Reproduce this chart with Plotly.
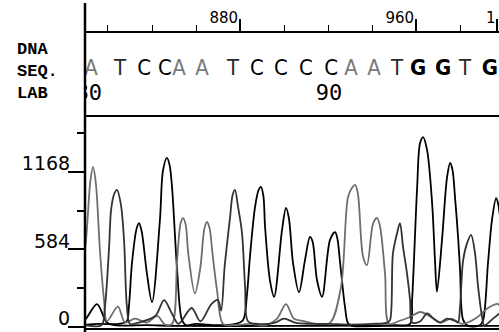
import plotly.graph_objects as go

# ---------------- data ----------------
# ruler (scan numbers)
ruler_major = [880, 960, 997]
ruler_labels = ["880", "960", "1"]
ruler_minor_step = 20

# y axis of the trace panel
y_major = [0, 584, 1168]
y_minor = [292, 876, 1460]

# base calls
bases = list("ATCCAATCCCCAATGGTG")
base_pos = [812.3, 825.5, 836.4, 845.9, 852.3, 862.7, 876.8, 887.7, 898.6,
            910.0, 921.4, 930.5, 940.9, 951.4, 960.9, 972.3, 982.3, 993.6]
base_numbers = ["80", "90"]
base_number_idx = [0, 10]

# traces (scan, signal)
a_x = [807.3, 810.0, 812.0, 813.2, 814.5, 816.4, 818.2, 819.5, 824.5, 827.7, 832.3,
       837.7, 842.3, 846.0, 849.1, 851.4, 853.0, 854.1, 855.3, 856.5, 859.5, 862.0,
       863.8, 865.0, 866.2, 867.5, 869.5, 872.3, 877.0, 884.5, 891.4, 896.8, 900.9,
       904.5, 909.0, 915.0, 921.0, 925.9, 929.1, 931.0, 932.3, 933.6, 935.9, 937.7,
       940.5, 942.3, 943.6, 945.9, 947.7, 952.0, 957.0, 962.0, 966.0, 971.0, 976.0,
       981.0, 987.0, 992.7, 997.3, 999.5]
a_y = [300, 650, 1100, 1206, 1080, 560, 200, 40, 150, 30, 60,
       30, 80, 15, 20, 500, 780, 820, 770, 550, 250, 450,
       740, 790, 740, 550, 280, 20, 10, 20, 10, 60, 170,
       60, 40, 20, 30, 300, 980, 1050, 1070, 1000, 530, 465,
       780, 820, 760, 400, 20, 40, 70, 110, 80, 30, 60,
       20, 60, 140, 170, 100]

c_x = [807.3, 816.0, 825.0, 828.5, 829.5, 830.9, 833.0, 834.1, 835.3, 837.7, 840.0,
       843.6, 845.0, 846.8, 848.0, 849.1, 851.4, 853.6, 855.5, 860.0, 870.0, 878.0,
       881.4, 883.2, 884.5, 886.8, 888.4, 889.5, 890.6, 891.4, 893.6, 895.5, 899.1,
       900.9, 902.2, 904.1, 906.8, 909.5, 911.8, 913.0, 915.0, 917.3, 920.9, 923.2,
       924.3, 925.5, 927.7, 929.1, 931.0, 945.0, 960.0, 999.5]
c_y = [10, 20, 20, 40, 150, 480, 740, 782, 720, 400, 185,
       805, 1180, 1274, 1220, 1055, 430, 50, 10, 20, 10, 20,
       50, 250, 525, 900, 1030, 1055, 990, 750, 350, 225, 730,
       896, 820, 480, 260, 500, 677, 640, 350, 225, 655, 714,
       660, 480, 150, 25, 5, 5, 5, 5]

g_x = [807.3, 810.0, 815.0, 819.5, 823.0, 838.0, 850.0, 900.0, 950.0, 957.3, 958.2,
       960.5, 961.8, 963.2, 965.0, 967.3, 968.6, 969.5, 971.8, 974.1, 975.5, 976.6,
       977.7, 979.1, 980.0, 981.4, 983.6, 989.0, 990.5, 992.7, 994.5, 996.4, 997.3,
       999.5]
g_y = [30, 60, 170, 30, 10, 10, 5, 5, 10, 20, 200,
       1055, 1385, 1432, 1335, 933, 503, 262, 655, 1130, 1236, 1180,
       980, 677, 430, 50, 5, 10, 50, 480, 805, 971, 930,
       600]

t_x = [807.3, 817.0, 818.6, 820.5, 821.4, 822.8, 824.1, 825.9, 827.3, 828.6, 830.0,
       834.0, 841.5, 845.5, 849.0, 852.0, 858.0, 862.0, 867.0, 870.0, 871.4, 873.0,
       875.5, 876.6, 877.7, 879.1, 880.9, 882.3, 883.6, 888.0, 896.0, 900.0, 905.0,
       912.0, 920.0, 930.0, 940.0, 947.0, 948.2, 949.5, 951.4, 952.7, 954.1, 955.9,
       957.3, 958.2, 962.0, 965.0, 968.0, 971.0, 974.0, 978.0, 979.1, 980.0, 981.4,
       983.2, 985.0, 986.8, 988.2, 990.0, 991.0, 995.0, 999.5]
t_y = [20, 10, 150, 600, 880, 1000, 1032, 918, 650, 150, 20,
       30, 80, 200, 100, 20, 140, 40, 170, 200, 120, 450,
       828, 990, 1032, 905, 707, 300, 40, 20, 30, 60, 30,
       20, 20, 15, 20, 30, 50, 553, 707, 782, 600, 400,
       200, 30, 40, 100, 60, 30, 60, 40, 30, 150, 500,
       630, 692, 553, 300, 75, 10, 60, 120]

# ---------------- figure ----------------
W, H = 499, 332
x_left_px = 85
x_range = [809.55, 997.7]

fig = go.Figure()

channel_style = {
    "A": "#6e6e6e",
    "C": "#000000",
    "G": "#000000",
    "T": "#333333",
}
for name, xs, ys in [("C", c_x, c_y), ("G", g_x, g_y), ("A", a_x, a_y), ("T", t_x, t_y)]:
    fig.add_trace(go.Scatter(
        x=xs, y=ys, mode="lines", name=name,
        line=dict(color=channel_style[name], width=1.8, shape="spline", smoothing=0.9),
        xaxis="x", yaxis="y", showlegend=False, hoverinfo="skip",
    ))

letter_style = {
    "A": dict(color="#7a7a7a", weight="normal"),
    "C": dict(color="#000000", weight="normal"),
    "G": dict(color="#000000", weight="bold"),
    "T": dict(color="#2a2a2a", weight="normal"),
}
for b in "ACGT":
    xs = [p for p, c in zip(base_pos, bases) if c == b]
    fig.add_trace(go.Scatter(
        x=xs, y=[0.55] * len(xs), mode="text", text=[b] * len(xs),
        textposition="middle center", cliponaxis=True,
        textfont=dict(family="Liberation Sans Narrow, DejaVu Sans Condensed, Roboto Condensed, sans-serif",
                      size=22, color=letter_style[b]["color"],
                      weight=letter_style[b]["weight"]),
        xaxis="x2", yaxis="y2", showlegend=False, hoverinfo="skip",
    ))

fig.add_trace(go.Scatter(
    x=[base_pos[i] - 1.0 for i in base_number_idx], y=[0.25] * len(base_number_idx),
    mode="text", text=base_numbers, textposition="middle center", cliponaxis=True,
    textfont=dict(family="DejaVu Sans Mono", size=22, color="#000000"),
    xaxis="x2", yaxis="y2", showlegend=False, hoverinfo="skip",
))

def py(px):
    return (H - px) / H

fig.update_layout(
    width=W, height=H,
    margin=dict(l=0, r=0, t=0, b=0, autoexpand=False),
    paper_bgcolor="white", plot_bgcolor="white",
    xaxis=dict(
        domain=[x_left_px / W, 1], range=x_range, anchor="y", automargin=False,
        showline=True, linecolor="black", linewidth=2,
        showgrid=False, zeroline=False, showticklabels=False, ticks="",
    ),
    yaxis=dict(
        domain=[py(328), py(116)], range=[-11, 1591], anchor="x", automargin=False,
        showline=False, showgrid=False, zeroline=False,
        tickmode="array", tickvals=y_major, ticktext=[str(v) for v in y_major],
        ticks="outside", ticklen=16, tickwidth=2, tickcolor="black",
        ticklabelposition="outside top", ticklabelstandoff=10, ticklabelshift=6,
        tickfont=dict(family="DejaVu Sans", size=19, color="black"),
        minor=dict(tickmode="array", tickvals=y_minor, ticks="outside",
                   ticklen=7, tickwidth=2, tickcolor="black"),
    ),
    xaxis2=dict(
        domain=[x_left_px / W, 1], range=x_range, anchor="y2", side="top", automargin=False,
        showline=True, mirror=True, linecolor="black", linewidth=2,
        showgrid=False, zeroline=False,
        tickmode="array", tickvals=ruler_major, ticktext=ruler_labels,
        ticks="outside", ticklen=12, tickwidth=2, tickcolor="black",
        ticklabelposition="outside left", ticklabelstandoff=2,
        tickfont=dict(family="DejaVu Sans", size=15, color="black"),
        minor=dict(dtick=ruler_minor_step, tick0=0, ticks="outside",
                   ticklen=6, tickwidth=1, tickcolor="black"),
    ),
    yaxis2=dict(
        domain=[py(115), py(33)], range=[0, 1], anchor="x2", automargin=False,
        showline=False, showgrid=False, zeroline=False,
        showticklabels=False, ticks="",
    ),
    shapes=[dict(type="line", xref="x domain", yref="paper",
                 x0=0, x1=0, y0=0, y1=py(3),
                 line=dict(color="black", width=2.5))],
    annotations=[dict(
        xref="paper", yref="paper", x=37 / W, y=py(71),
        xanchor="center", yanchor="middle", showarrow=False,
        text="<b>DNA<br>SEQ.<br>LAB</b>", align="left",
        font=dict(family="Liberation Mono, DejaVu Sans Mono, monospace", size=17, color="black"),
    )],
)

fig.write_html("out.html", config={"displayModeBar": False},
               post_script="document.body.style.margin='0px';document.body.style.overflow='hidden';")
